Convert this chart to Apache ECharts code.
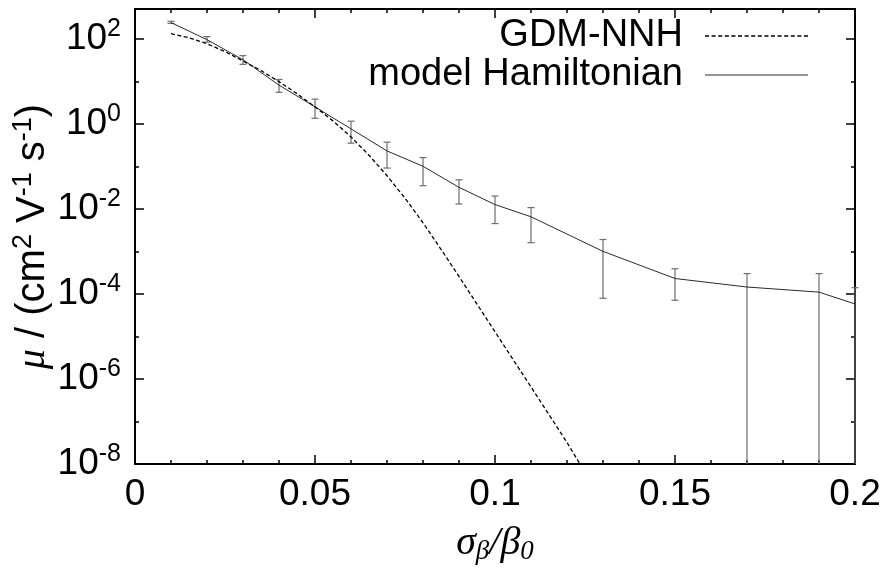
<!DOCTYPE html>
<html>
<head>
<meta charset="utf-8">
<script src="https://cdn.jsdelivr.net/npm/echarts@6/dist/echarts.min.js"></script>
<style>
  html, body { margin: 0; padding: 0; background: #fff; }
  #box { width: 889px; height: 569px; }
</style>
</head>
<body>
<div id="box"></div>
<script>
// GDM-NNH curve, mobility in cm2/Vs
const gdmX = [0.01, 0.015, 0.02, 0.025, 0.03, 0.035, 0.04, 0.045, 0.05, 0.055, 0.06, 0.065,
  0.07, 0.075, 0.08, 0.085, 0.09, 0.095, 0.1, 0.105, 0.11, 0.115, 0.12, 0.1236];
const gdmMu = [132, 105, 76, 50, 30, 17.8, 9.8, 5.1, 2.5, 1.17, 0.49, 0.182,
  0.060, 0.0178, 4.7e-3, 1.12e-3, 2.57e-4, 5.75e-5, 1.29e-5, 2.88e-6, 6.5e-7, 1.45e-7, 3.2e-8, 1.0e-8];

// model Hamiltonian points with error bar ends (0 = bar runs off the bottom)
const modelX = [0.01, 0.02, 0.03, 0.04, 0.05, 0.06, 0.07, 0.08, 0.09, 0.1, 0.11, 0.13, 0.15, 0.17, 0.19, 0.2];
const modelMu = [240, 95, 32, 8.1, 2.5, 0.76, 0.23, 0.10, 0.032, 0.0126, 0.0065, 1.0e-3, 2.3e-4, 1.45e-4, 1.1e-4, 5.8e-5];
const modelHi = [257, 112, 40, 11, 3.8, 1.15, 0.37, 0.16, 0.048, 0.020, 0.0107, 1.9e-3, 3.9e-4, 3.0e-4, 3.0e-4, 1.4e-4];
const modelLo = [229, 83, 25, 5.5, 1.35, 0.35, 0.091, 0.035, 0.013, 4.5e-3, 1.6e-3, 7.9e-5, 7.1e-5, 0, 0, 0];

// log axis range (powers of ten)
const yMin = -8;
const yMax = Math.log10(500);

const FONT = '"Liberation Sans", Arial, sans-serif';
const SERIF = '"Liberation Serif", "DejaVu Serif", serif';

function lg(v) {
  return v > 0 ? Math.log10(v) : yMin;
}

// legend icons: plain path so no symbol dot is drawn
function dashIcon(len, dash, gap, h) {
  let p = "path://";
  for (let x = 0; x < len; x += dash + gap) {
    let w = Math.min(dash, len - x);
    p += "M" + x + ",0h" + w + "v" + h + "h" + -w + "Z";
  }
  return p;
}

let chart = echarts.init(document.getElementById("box"), null, { renderer: "canvas" });

let tickLong = { inside: true, length: 9, lineStyle: { color: "#000", width: 1.5 } };
let tickShort = { inside: true, length: 4, lineStyle: { color: "#000", width: 1.5 } };
let axisLine = { show: true, onZero: false, lineStyle: { color: "#000", width: 2 } };

function xAxisCfg(pos, withLabels) {
  return {
    type: "value",
    position: pos,
    min: 0,
    max: 0.2,
    interval: 0.05,
    axisLine: axisLine,
    axisTick: tickLong,
    minorTick: { show: true, splitNumber: 5, length: 4, lineStyle: { color: "#000", width: 1.5 } },
    splitLine: { show: false },
    minorSplitLine: { show: false },
    axisLabel: withLabels
      ? { show: true, fontSize: 37, color: "#000", fontFamily: FONT, margin: 12 }
      : { show: false }
  };
}

function yAxisCfg(pos, interval, tick, showLine, withLabels) {
  return {
    type: "value",
    position: pos,
    min: yMin,
    max: yMax,
    interval: interval,
    axisLine: showLine ? axisLine : { show: false, onZero: false },
    axisTick: tick,
    splitLine: { show: false },
    axisLabel: withLabels
      ? {
          show: true,
          margin: 14,
          formatter: function(v) {
            if (Math.abs(v - Math.round(v)) > 1e-9 || Math.round(v) % 2 !== 0) return "";
            return "{b|10}{s|" + Math.round(v) + "}";
          },
          rich: {
            b: { fontSize: 37, fontFamily: FONT, color: "#000", lineHeight: 44, verticalAlign: "middle" },
            s: { fontSize: 25, fontFamily: FONT, color: "#000", lineHeight: 26, verticalAlign: "top" }
          }
        }
      : { show: false }
  };
}

let xMain = xAxisCfg("bottom", true);
xMain.name = "{g|σ}{sub|β}{g|/β}{sub|0}";
xMain.nameLocation = "middle";
xMain.nameGap = 57;
xMain.nameMoveOverlap = false;
xMain.nameTextStyle = {
  rich: {
    g: { fontSize: 40, fontFamily: SERIF, fontStyle: "italic", color: "#000", lineHeight: 44, verticalAlign: "middle" },
    sub: { fontSize: 27, fontFamily: SERIF, fontStyle: "italic", color: "#000", lineHeight: 27, verticalAlign: "bottom" }
  }
};

let yMain = yAxisCfg("left", 2, tickLong, true, true);
yMain.name = "{m|μ}{t| / (cm}{s|2}{t| V}{s|-1}{t| s}{s|-1}{t|)}";
yMain.nameLocation = "middle";
yMain.nameGap = 79;
yMain.nameMoveOverlap = false;
yMain.nameTextStyle = {
  rich: {
    m: { fontSize: 40, fontFamily: SERIF, fontStyle: "italic", color: "#000", lineHeight: 46, verticalAlign: "middle" },
    t: { fontSize: 40, fontFamily: FONT, color: "#000", lineHeight: 46, verticalAlign: "middle" },
    s: { fontSize: 27, fontFamily: FONT, color: "#000", lineHeight: 27, verticalAlign: "top" }
  }
};

let legendBase = {
  orient: "horizontal",
  align: "right",
  right: 76,
  itemWidth: 103,
  itemHeight: 12,
  itemGap: 0,
  selectedMode: false,
  textStyle: { fontSize: 38, color: "#000", fontFamily: FONT, padding: [0, 17, 0, 0] }
};

let option = {
  animation: false,
  backgroundColor: "#fff",
  grid: { left: 135, right: 34, top: 9, bottom: 105, containLabel: false, outerBoundsMode: "none" },
  legend: [
    Object.assign({}, legendBase, {
      data: [{ name: "GDM-NNH", icon: dashIcon(103, 4, 2.5, 1.3) }],
      top: 12
    }),
    Object.assign({}, legendBase, {
      data: [{ name: "model Hamiltonian", icon: "path://M0,0h103v1.2h-103Z" }],
      top: 51
    })
  ],
  xAxis: [xMain, xAxisCfg("top", false)],
  yAxis: [
    yMain,
    yAxisCfg("left", 1, tickShort, false, false),
    yAxisCfg("right", 2, tickLong, true, false),
    yAxisCfg("right", 1, tickShort, false, false)
  ],
  series: [
    {
      type: "custom",
      name: "errors",
      silent: true,
      clip: false,
      z: 1,
      data: modelX.map((x, i) => [x, lg(modelHi[i]), lg(modelLo[i]), modelLo[i] > 0 ? 1 : 0]),
      renderItem: function(params, api) {
        let x = api.value(0),
          top = api.coord([x, api.value(1)]),
          bot = api.coord([x, api.value(2)]),
          w = 3.5,
          st = { stroke: "#6e6e6e", lineWidth: 1.2 },
          kids = [
            { type: "line", shape: { x1: top[0], y1: top[1], x2: bot[0], y2: bot[1] }, style: st },
            { type: "line", shape: { x1: top[0] - w, y1: top[1], x2: top[0] + w, y2: top[1] }, style: st }
          ];
        if (api.value(3)) {
          kids.push({ type: "line", shape: { x1: bot[0] - w, y1: bot[1], x2: bot[0] + w, y2: bot[1] }, style: st });
        }
        return { type: "group", children: kids };
      }
    },
    {
      type: "line",
      name: "GDM-NNH",
      z: 3,
      showSymbol: false,
      symbol: "none",
      data: gdmX.map((x, i) => [x, lg(gdmMu[i])]),
      lineStyle: { color: "#000", width: 1.3, type: [4, 2.5] },
      itemStyle: { color: "#000" }
    },
    {
      type: "line",
      name: "model Hamiltonian",
      z: 2,
      showSymbol: false,
      symbol: "none",
      data: modelX.map((x, i) => [x, lg(modelMu[i])]),
      lineStyle: { color: "#2a2a2a", width: 1 },
      itemStyle: { color: "#2a2a2a" }
    }
  ]
};

chart.setOption(option);
</script>
</body>
</html>
